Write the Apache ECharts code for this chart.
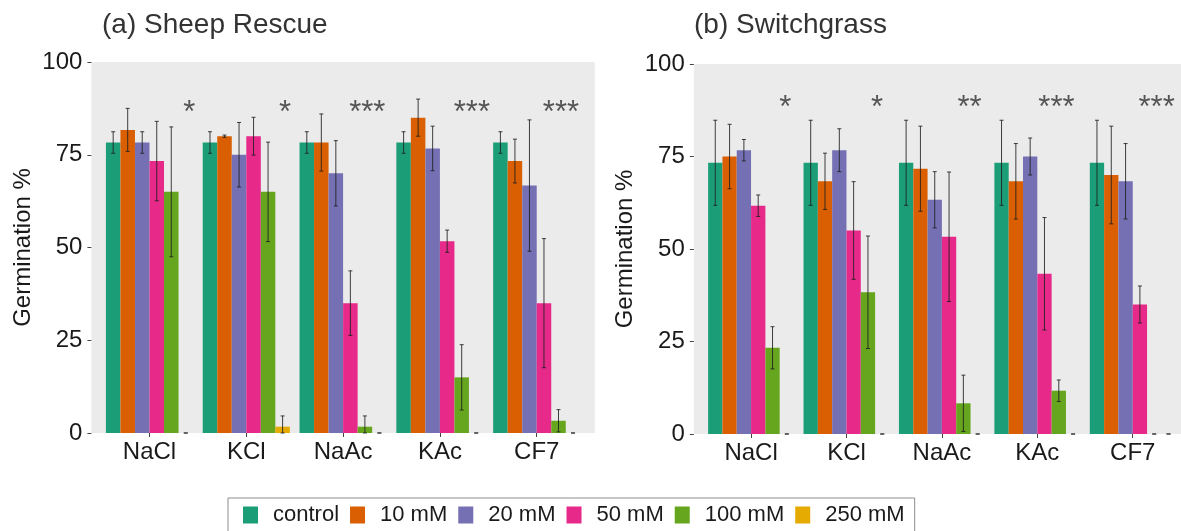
<!DOCTYPE html>
<html>
<head>
<meta charset="utf-8">
<title>Germination under salt treatments</title>
<script src="https://cdn.jsdelivr.net/npm/echarts@6/dist/echarts.min.js"></script>
<style>
  html, body { margin: 0; padding: 0; background: #ffffff; }
  #chart { width: 1181px; height: 531px; }
</style>
</head>
<body>
<div id="chart"></div>
<script>
// Salt treatments on the x axis, concentration levels as the bar series
const categories = ['NaCl', 'KCl', 'NaAc', 'KAc', 'CF7'];
const concentrations = ['control', '10 mM', '20 mM', '50 mM', '100 mM', '250 mM'];
const yTicks = [0, 25, 50, 75, 100];

// (a) Sheep Rescue: mean germination % per concentration (rows) and salt (columns)
const sheepMean = [
  [78.3, 78.3, 78.3, 78.3, 78.3],
  [81.7, 80.0, 78.3, 85.0, 73.3],
  [78.3, 75.0, 70.0, 76.7, 66.7],
  [73.3, 80.0, 35.0, 51.7, 35.0],
  [65.0, 65.0, 1.7, 15.0, 3.3],
  [0, 1.7, 0, 0, 0]
];
const sheepSd = [
  [2.9, 2.9, 2.9, 2.9, 2.9],
  [5.8, 0.3, 7.7, 5.0, 5.9],
  [2.9, 8.7, 8.8, 6.0, 17.7],
  [10.7, 5.1, 8.7, 3.0, 17.4],
  [17.5, 13.4, 2.9, 8.8, 3.0],
  [0, 2.9, 0, 0, 0]
];
const sheepStars = ['*', '*', '***', '***', '***'];

// (b) Switchgrass
const switchMean = [
  [73.3, 73.3, 73.3, 73.3, 73.3],
  [75.0, 68.3, 71.7, 68.3, 70.0],
  [76.7, 76.7, 63.3, 75.0, 68.3],
  [61.7, 55.0, 53.3, 43.3, 35.0],
  [23.3, 38.3, 8.3, 11.7, 0],
  [0, 0, 0, 0, 0]
];
const switchSd = [
  [11.5, 11.5, 11.5, 11.5, 11.5],
  [8.7, 7.6, 11.5, 10.2, 13.2],
  [2.9, 5.8, 7.6, 5.0, 10.2],
  [2.9, 13.2, 17.5, 15.2, 5.0],
  [5.7, 15.2, 7.6, 2.9, 0],
  [0, 0, 0, 0, 0]
];
const switchStars = ['*', '*', '**', '***', '***'];

// Dark2 palette
const colors = ['#1B9E77', '#D95F02', '#7570B3', '#E7298A', '#66A61E', '#E6AB02'];

// Layout of the two panels (panel background box in px)
const panels = [
  { title: '(a) Sheep Rescue', mean: sheepMean, sd: sheepSd, stars: sheepStars,
    box: { left: 91.4, right: 594.8, top: 62, bottom: 433 }, titleLeft: 97,
    starLevel: 86, starShift: [0.41, 0.40, 0.25, 0.33, 0.25] },
  { title: '(b) Switchgrass', mean: switchMean, sd: switchSd, stars: switchStars,
    box: { left: 693.8, right: 1190, top: 64, bottom: 434 }, titleLeft: 689,
    starLevel: 88, starShift: [0.36, 0.32, 0.29, 0.20, 0.25] }
];

const FONT = '"Liberation Sans", Arial, sans-serif';
const grids = [], xAxes = [], yAxes = [], series = [], graphics = [], titles = [];

panels.forEach((p, pi) => {
  const b = p.box;
  const unit = (b.right - b.left) / 5.2;   // discrete scale: 0.6 unit padding each side
  const pad = 0.1 * unit;
  grids.push({ left: b.left + pad, width: 5 * unit, top: b.top, height: b.bottom - b.top });
  graphics.push({
    type: 'rect', z: -10, silent: true,
    shape: { x: b.left, y: b.top, width: b.right - b.left, height: b.bottom - b.top },
    style: { fill: '#EBEBEB' }
  });
  titles.push({
    text: p.title, left: p.titleLeft, top: 6,
    textStyle: { fontFamily: FONT, fontSize: 28, fontWeight: 'normal', color: '#333333' }
  });
  xAxes.push({
    type: 'category', gridIndex: pi, data: categories,
    axisLine: { show: false },
    axisTick: { show: true, alignWithLabel: true, length: 4, lineStyle: { color: '#444', width: 1 } },
    axisLabel: { margin: 7, fontFamily: FONT, fontSize: 24, color: '#1a1a1a' },
    splitLine: { show: false }
  });
  yAxes.push({
    type: 'value', gridIndex: pi, min: yTicks[0], max: yTicks[yTicks.length - 1], interval: 25,
    offset: pad,
    name: 'Germination %', nameLocation: 'middle', nameGap: 56,
    nameTextStyle: { fontFamily: FONT, fontSize: 24, color: '#1a1a1a' },
    axisLine: { show: false },
    axisTick: { show: true, length: 4, lineStyle: { color: '#444', width: 1 } },
    axisLabel: { margin: 9, fontFamily: FONT, fontSize: 24, color: '#1a1a1a' },
    splitLine: { show: false }
  });

  concentrations.forEach((c, k) => {
    series.push({
      name: c, type: 'bar', xAxisIndex: pi, yAxisIndex: pi,
      data: p.mean[k],
      barGap: '0%', barCategoryGap: '10%',
      itemStyle: { color: colors[k] },
      emphasis: { disabled: true }
    });
  });

  // Error bars (mean ± sd), placed on each bar's slot within the category band
  const errData = [];
  concentrations.forEach((c, k) => {
    categories.forEach((cat, i) => errData.push([i, p.mean[k][i], p.sd[k][i], k]));
  });
  series.push({
    type: 'custom', xAxisIndex: pi, yAxisIndex: pi, z: 5, silent: true,
    data: errData,
    encode: { x: 0, y: 1 },
    renderItem: (params, api) => {
      const i = api.value(0), m = api.value(1), s = api.value(2), k = api.value(3);
      const band = api.size([1, 0])[0];
      const bw = band * 0.9 / concentrations.length;
      const x = api.coord([i, m])[0] + (k - (concentrations.length - 1) / 2) * bw;
      const yHi = api.coord([i, Math.min(100, m + s)])[1];
      const yLo = api.coord([i, Math.max(0, m - s)])[1];
      const cap = 2;
      const st = { stroke: '#1f1f1f', lineWidth: 1, opacity: 0.85 };
      return {
        type: 'group',
        children: [
          { type: 'line', shape: { x1: x, y1: yHi, x2: x, y2: yLo }, style: st },
          { type: 'line', shape: { x1: x - cap, y1: yHi, x2: x + cap, y2: yHi }, style: st },
          { type: 'line', shape: { x1: x - cap, y1: yLo, x2: x + cap, y2: yLo }, style: st }
        ]
      };
    }
  });

  // Significance stars for each salt
  series.push({
    type: 'custom', xAxisIndex: pi, yAxisIndex: pi, z: 6, silent: true,
    data: categories.map((cat, i) => [i, p.starLevel]),
    encode: { x: 0, y: 1 },
    renderItem: (params, api) => {
      const i = api.value(0);
      const band = api.size([1, 0])[0];
      const pt = api.coord([i, api.value(1)]);
      return {
        type: 'text',
        style: {
          x: pt[0] + p.starShift[i] * band, y: pt[1],
          text: p.stars[i], fill: '#555555',
          font: '31px ' + FONT, align: 'center', verticalAlign: 'middle'
        }
      };
    }
  });
});

const chart = echarts.init(document.getElementById('chart'), null, { renderer: 'canvas' });
chart.setOption({
  animation: false,
  backgroundColor: '#ffffff',
  title: titles,
  grid: grids,
  xAxis: xAxes,
  yAxis: yAxes,
  legend: {
    data: concentrations,
    selectedMode: false,
    left: 228, top: 498,
    orient: 'horizontal',
    itemWidth: 15, itemHeight: 17, itemGap: 11,
    padding: [6, 10, 20, 15],
    borderColor: '#8c8c8c', borderWidth: 1,
    icon: 'rect',
    textStyle: { fontFamily: FONT, fontSize: 22, color: '#1a1a1a', padding: [0, 0, 0, 10] }
  },
  graphic: graphics,
  series: series
});
</script>
</body>
</html>
